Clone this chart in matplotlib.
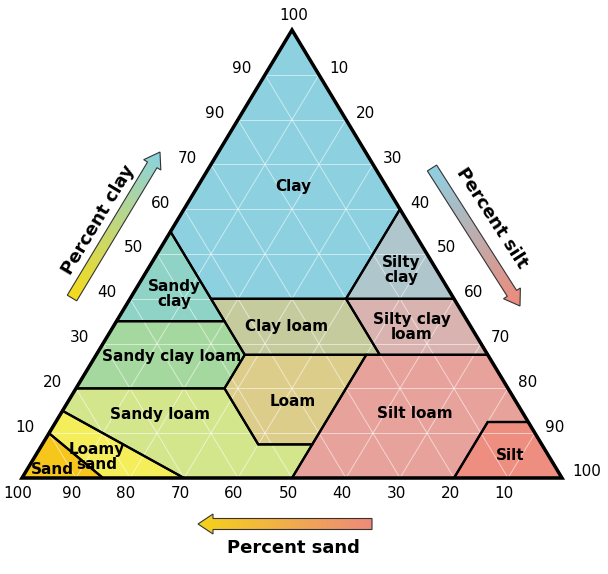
import numpy as np
import matplotlib
matplotlib.use("Agg")
import matplotlib.pyplot as plt
from matplotlib.patches import Polygon, FancyArrow
from matplotlib.colors import LinearSegmentedColormap

# triangle corners in pixel space: sand=100 (left), silt=100 (right), clay=100 (top)
P_SAND = np.array([22.0, 478.0])
P_SILT = np.array([562.0, 478.0])
P_CLAY = np.array([292.0, 30.0])

# soil classes: (name, colour, [(sand, clay), ...])
classes = [
    ("Clay", "#8dd1e0", [(0, 100), (45, 55), (45, 40), (20, 40), (0, 60)]),
    ("Sandy clay", "#8fd3c6", [(45, 55), (65, 35), (45, 35)]),
    ("Silty clay", "#aec6cc", [(0, 60), (20, 40), (0, 40)]),
    ("Sandy clay loam", "#a5d89e", [(65, 35), (45, 35), (45, 27.5), (52.5, 20), (80, 20)]),
    ("Clay loam", "#c6cb9e", [(45, 40), (20, 40), (20, 27.5), (45, 27.5)]),
    ("Silty clay loam", "#d8b3b0", [(20, 40), (0, 40), (0, 27.5), (20, 27.5)]),
    ("Loam", "#dccd8a", [(45, 27.5), (52.5, 20), (52.5, 7.5), (42.5, 7.5), (22.5, 27.5)]),
    ("Sandy loam", "#d4e68c", [(80, 20), (52.5, 20), (52.5, 7.5), (42.5, 7.5), (50, 0), (70, 0), (85, 15)]),
    ("Loamy sand", "#f4ee5a", [(85, 0), (70, 0), (85, 15), (90, 10)]),
    ("Sand", "#f7c61a", [(100, 0), (85, 0), (90, 10)]),
    ("Silt loam", "#e8a29c", [(50, 0), (20, 0), (7.5, 12.5), (0, 12.5), (0, 27.5), (22.5, 27.5)]),
    ("Silt", "#ee8e80", [(20, 0), (0, 0), (0, 12.5), (7.5, 12.5)]),
]

# label text and pixel position
labels = [
    ("Clay", 293, 186), ("Sandy\nclay", 174, 294), ("Silty\nclay", 401, 270),
    ("Clay loam", 287, 327), ("Silty clay\nloam", 412, 327),
    ("Sandy clay loam", 172, 357), ("Sandy loam", 160, 415), ("Loam", 293, 402),
    ("Silt loam", 415, 413), ("Loamy\nsand", 97, 457), ("Sand", 52, 469), ("Silt", 510, 456),
]

ticks = [10, 20, 30, 40, 50, 60, 70, 80, 90, 100]
clay_ticks = [10, 20, 30, 40, 50, 60, 70, 80, 90]
clay_tick_labels = ["10", "20", "30", "40", "50", "60", "70", "90", "90"]


def tp(sand, clay):
    silt = 100 - sand - clay
    return (sand * P_SAND + silt * P_SILT + clay * P_CLAY) / 100.0


fig = plt.figure(figsize=(6.08, 5.74), dpi=100)
ax = fig.add_axes([0, 0, 1, 1])
ax.set_xlim(0, 608)
ax.set_ylim(574, 0)
ax.axis("off")

for name, col, pts in classes:
    xy = np.array([tp(s, c) for s, c in pts])
    ax.add_patch(Polygon(xy, closed=True, facecolor=col, edgecolor="none", zorder=1))

# internal grid
for k in range(10, 100, 10):
    for a, b in [((k, 0), (k, 100 - k)), ((0, k), (100 - k, k)), ((100 - k, 0), (0, 100 - k))]:
        p, q = tp(*a), tp(*b)
        ax.plot([p[0], q[0]], [p[1], q[1]], color="white", lw=0.7, alpha=0.55, zorder=2)

for name, col, pts in classes:
    xy = np.array([tp(s, c) for s, c in pts])
    ax.add_patch(Polygon(xy, closed=True, facecolor="none", edgecolor="black", lw=1.6, zorder=3))

tri = np.array([P_SAND, P_SILT, P_CLAY])
ax.add_patch(Polygon(tri, closed=True, facecolor="none", edgecolor="black", lw=2.5, zorder=4))

for t, x, y in labels:
    ax.text(x, y, t, ha="center", va="center", fontsize=11, fontweight="bold",
            linespacing=0.95, zorder=5)

# tick labels
for k, lab in zip(clay_ticks, clay_tick_labels):
    p = tp(100 - k, k)
    ax.text(p[0] - 14, p[1] - 6, lab, ha="right", va="center", fontsize=11, zorder=5)
for k in ticks:
    p = tp(0, 100 - k)
    ax.text(p[0] + 10, p[1] - 6, str(k), ha="left", va="center", fontsize=11, zorder=5)
for k in ticks:
    p = tp(k, 0)
    ax.text(p[0] - 4, p[1] + 16, str(k), ha="center", va="center", fontsize=11, zorder=5)
ax.text(P_CLAY[0] + 2, P_CLAY[1] - 14, "100", ha="center", va="center", fontsize=11)


def grad_arrow(x0, y0, x1, y1, c0, c1):
    dx, dy = x1 - x0, y1 - y0
    arr = FancyArrow(x0, y0, dx, dy, width=11, head_width=20, head_length=15,
                     length_includes_head=True, facecolor="none", edgecolor="#333333",
                     lw=0.8, zorder=6)
    ax.add_patch(arr)
    n = 200
    xs = np.linspace(min(x0, x1) - 15, max(x0, x1) + 15, n)
    ys = np.linspace(min(y0, y1) - 15, max(y0, y1) + 15, n)
    X, Y = np.meshgrid(xs, ys)
    L = dx * dx + dy * dy
    T = np.clip(((X - x0) * dx + (Y - y0) * dy) / L, 0, 1)
    cmap = LinearSegmentedColormap.from_list("g", [c0, c1])
    im = ax.imshow(T, cmap=cmap, extent=(xs[0], xs[-1], ys[-1], ys[0]), origin="upper",
                   zorder=5, vmin=0, vmax=1)
    im.set_clip_path(arr)


grad_arrow(72, 298, 160, 152, "#f5dc1a", "#8ad2e2")
grad_arrow(432, 168, 520, 306, "#8fd0e2", "#ee8a7a")
grad_arrow(372, 524, 198, 524, "#ee8a7a", "#f5d21a")
ax.set_xlim(0, 608)
ax.set_ylim(574, 0)

ax.text(98, 220, "Percent clay", rotation=59, ha="center", va="center",
        fontsize=13, fontweight="bold")
ax.text(492, 218, "Percent silt", rotation=-57, ha="center", va="center",
        fontsize=13, fontweight="bold")
ax.text(293, 548, "Percent sand", ha="center", va="center", fontsize=13, fontweight="bold")

fig.savefig("out.png", dpi=100)
